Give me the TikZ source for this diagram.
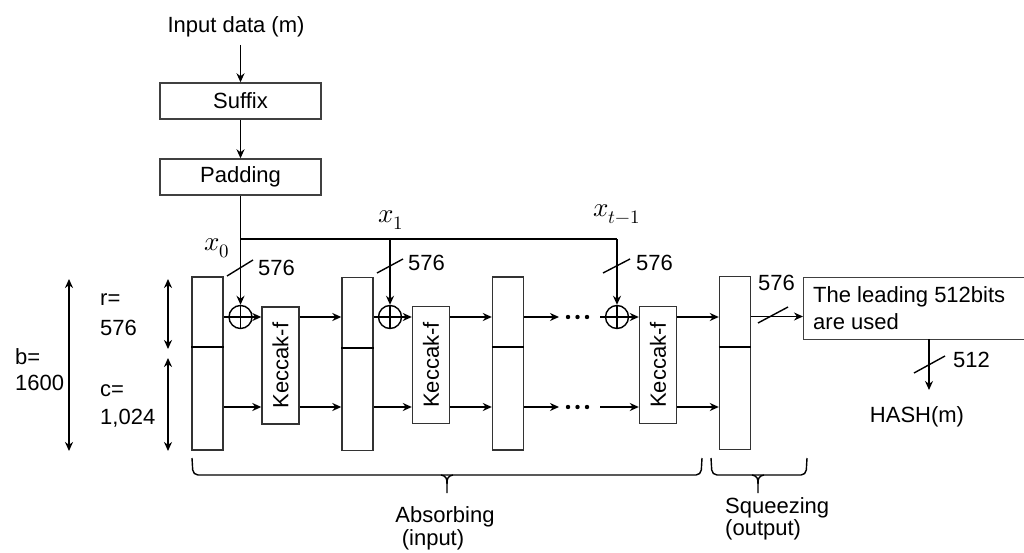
\documentclass[tikz,border=0pt]{standalone}
\usepackage{fontspec}
\usepackage{unicode-math}
\setmainfont{Liberation Sans}
\setmathfont{Latin Modern Math}
\usetikzlibrary{arrows.meta,calc}
\begin{document}
\begin{tikzpicture}[x=1pt,y=-1pt,
  font=\fontsize{22}{27}\selectfont,
  every node/.style={inner sep=0pt},
  ln/.style={line width=1.7pt},
  arr/.style={ln,-{Stealth[length=9pt,width=8pt]}},
  dbl/.style={ln,{Stealth[length=9pt,width=8pt]}-{Stealth[length=9pt,width=8pt]}},
  box/.style={draw=black!75,line width=1.4pt,minimum width=161pt,minimum height=36pt},
  reg/.style={draw=black!80,line width=1.4pt,minimum width=31pt,minimum height=173pt},
  kec/.style={draw=black!80,line width=1.4pt,minimum width=37pt,minimum height=117pt},
  xor/.style={circle,draw,line width=1.4pt,minimum size=23pt,
    path picture={\draw[line width=1.7pt] (path picture bounding box.north) -- (path picture bounding box.south)
      (path picture bounding box.west) -- (path picture bounding box.east);}},
  mlabel/.style={font=\fontsize{27}{30}\selectfont},
  slash/.style={line width=1.4pt},
  dot/.style={fill=black},
  brace/.style={line width=1.4pt,rounded corners=5pt}
]
\useasboundingbox (0,0) rectangle (1024,553);

% top chain
\node (inp) at (236,27) {Input data (m)};
\node[box] (suffix) at (240.5,101) {Suffix};
\node[box] (padding) at (240.5,177) {Padding};
\draw[arr] (240.5,45) -- (suffix.north);
\draw[arr] (suffix) -- (padding);

% registers
\node[reg] (reg1) at (207.5,363.5) {};
\node[reg] (reg2) at (357.5,364) {};
\node[reg] (reg3) at (508,363.5) {};
\node[reg] (reg4) at (735,363) {};
\foreach \r/\y in {reg1/347,reg2/348,reg3/347,reg4/347}
  \draw[line width=1.4pt] (\r.west |- 0,\y) -- (\r.east |- 0,\y);

% keccak boxes
\node[kec] (k1) at (280.5,365.5) {\rotatebox{90}{Keccak-f}};
\node[kec] (k2) at (431,365) {\rotatebox{90}{Keccak-f}};
\node[kec] (k3) at (658,365) {\rotatebox{90}{Keccak-f}};

\coordinate (j0) at (240.5,239);
\coordinate (j1) at (390,239);
\coordinate (j2) at (617,239);
\coordinate (d1) at (559,317);
\coordinate (d2) at (559,407);
\coordinate (e1) at (600,317);
\coordinate (e2) at (600,407);

\draw[arr] (reg1.east |- 0,317) -- (k1.west |- 0,317);
\draw[arr] (reg1.east |- 0,407) -- (k1.west |- 0,407);
\draw[arr] (k1.east |- 0,317) -- (reg2.west |- 0,317);
\draw[arr] (k1.east |- 0,407) -- (reg2.west |- 0,407);
\draw[arr] (reg2.east |- 0,317) -- (k2.west |- 0,317);
\draw[arr] (reg2.east |- 0,407) -- (k2.west |- 0,407);
\draw[arr] (k2.east |- 0,317) -- (reg3.west |- 0,317);
\draw[arr] (k2.east |- 0,407) -- (reg3.west |- 0,407);
\draw[arr] (reg3.east |- 0,317) -- (d1);
\draw[arr] (reg3.east |- 0,407) -- (d2);
\foreach \xx in {568,577.5,587} {
  \fill[dot] (\xx,317) circle (2.2);
  \fill[dot] (\xx,407) circle (2.2);
}
\draw[arr] (e1) -- (k3.west |- 0,317);
\draw[arr] (e2) -- (k3.west |- 0,407);
\draw[arr] (k3.east |- 0,317) -- (reg4.west |- 0,317);
\draw[arr] (k3.east |- 0,407) -- (reg4.west |- 0,407);

\node[xor] (x1) at (240.5,317) {};
\node[xor] (x2) at (390,317) {};
\node[xor] (x3) at (617,317) {};

% input distribution
\draw[arr] (padding.south) -- (x1.north);
\draw[ln] (j0) -- (j2);
\draw[arr] (j1) -- (x2.north);
\draw[arr] (j2) -- (x3.north);
\node[mlabel] (lx0) at (217,248) {$x_0$};
\node[mlabel] (lx1) at (391,220) {$x_1$};
\node[mlabel] (lx2) at (617,214) {$x_{t-1}$};
\draw[slash] (227,276) -- (253,260);
\draw[slash] (377,273) -- (403,259);
\draw[slash] (603,273) -- (630,259);
\node[anchor=west] (n1) at (258,268) {576};
\node[anchor=west] (n2) at (408,263) {576};
\node[anchor=west] (n3) at (636,263) {576};

% output
\node[draw=black!75,line width=1.4pt,anchor=north west,minimum width=240pt,minimum height=62pt] (outbox) at (803,277) {};
\node[anchor=west,align=left] (outtxt) at (813,308.5) {The leading 512bits\\are used};
\draw[arr] (reg4.east |- 0,316.5) -- (outbox.west |- 0,316.5);
\draw[slash] (758,323) -- (788,307);
\node[anchor=west] (n4) at (758,283) {576};
\node (hash) at (917,417) {HASH(m)};
\draw[arr] (929,339) -- (929,390);
\draw[slash] (914,373) -- (945,356);
\node[anchor=west] (n5) at (953,360) {512};

% size arrows
\draw[dbl] (69,279) -- (69,451);
\draw[dbl] (168,279) -- (168,349);
\draw[dbl] (168,358) -- (168,451);
\node[anchor=west] (b1) at (15,357) {b=};
\node[anchor=west] (b2) at (15,383) {1600};
\node[anchor=west] (r1) at (100,300) {r=};
\node[anchor=west] (r2) at (100,328) {576};
\node[anchor=west] (c1) at (100,391) {c=};
\node[anchor=west] (c2) at (100,418) {1,024};

% braces
\draw[brace] (192,458) -- (193,475) -- (447,475);
\draw[brace] (447,475) -- (701,475) -- (702,458);
\draw[line width=1.4pt] (441,475) .. controls (446,476) and (447,478) .. (447,484) -- (447,493);
\draw[line width=1.4pt] (453,475) .. controls (448,476) and (447,478) .. (447,484);
\draw[brace] (711,458) -- (712,475) -- (758,475);
\draw[brace] (758,475) -- (806,475) -- (807,458);
\draw[line width=1.4pt] (752,475) .. controls (757,476) and (758,478) .. (758,484) -- (758,493);
\draw[line width=1.4pt] (764,475) .. controls (759,476) and (758,478) .. (758,484);
\node (abs1) at (445,517) {Absorbing};
\node (abs2) at (433,540) {(input)};
\node[anchor=west] (sq1) at (725,508) {Squeezing};
\node[anchor=west] (sq2) at (725,530) {(output)};
\end{tikzpicture}
\end{document}
